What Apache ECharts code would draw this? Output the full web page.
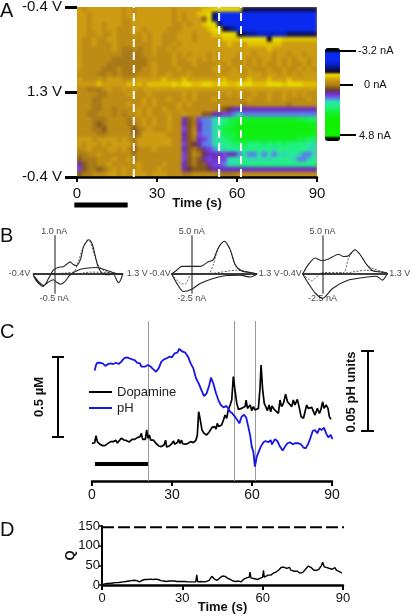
<!DOCTYPE html>
<html><head><meta charset="utf-8">
<script src="https://cdn.jsdelivr.net/npm/echarts@6/dist/echarts.min.js"></script>
<style>html,body{margin:0;padding:0;background:#fff}#c{width:410px;height:616px}</style>
</head><body><div id="c"></div>
<script>
const FONT = '"Liberation Sans", Arial, sans-serif';
// Panel A: background-subtracted current, one char per cell (0-9a-z => -3.5 nA + index * 0.25 nA)
const currentRows = [
"cdcccccc cdcdcccc cccdcccc cbbaaaaa a9888888 88888888",
"ccdccccc cdcdcccc cccdcdcc bba85333 22222222 22222222",
"ccdccccc cddccccc cccdcdcc cfa85433 22222222 22222222",
"ccdccdcc cddccccc cccddcdc cbaa8533 22222222 22222222",
"ccdccdcc dddccdcc ccdddccc ccbaa987 32222222 22222222",
"ccddcddc dddcdcdc cdddcccd cccbbaaa 98776666 66888888",
"cddcddcc dddddcdc cdddcccd cccccbbb baaaaa9a abbbbbbb",
"cddcdddc dddddddc cddcdccc ccccccbc ccbbbbbb bccccccc",
"cddddddc deededdc ddcdcccc cccccccc ccccccbc cccccccc",
"cddddddd deeeeddc dddcdcdc ccdcdccc dccdcccd ccdccdcc",
"cdddddde eeeeeedd dddcddcc dcdcdccd dcdcdccd cdcdccdc",
"cdddddee eeeeeedc dddcdddc ddddcdcd dcdcdcdd cdcddcdc",
"cddddeee deeeeddc ddddcddd dddccddc ddcdddcd dcddcdcd",
"ddddeede deeedddc ddcdddcd ddddcdcc cdcccdcc dcdcdccc",
"cdddcdcc cddccccc cbcccbcc cccccbcc ccbcccbc ccbccccc",
"ccccbccc ccbcbcbb bbbabaab baabbabb aaabbbaa abaaabbb",
"ddeeedcd dcdcdccc cccccccc cccccccc cccccccc cccccccc",
"ddddeedd ddcdddcd dddddcdc ddddddcd cddcddcd dcdcdcdd",
"dddeeddd dddddcdc ddcddcdc dddcdddd ddcdddcd dcddddcd",
"dddeeddd ddcddcdc ddddcdcd dddddddd dedddddd ddeddddd",
"dddeedde ddddcdcd dcddcddd ddddefgh hhhhhhhh hhhhhhhh",
"ddeeddde deddcdcd ddcddcdd dffhhiij kjjjjjjj jjjjjjjj",
"dddeeedd ddeddcdc ddcddhfe ijjklmno pppppppp ppppoonn",
"dddefedd ddeedcdc ddcddhfe hjjklnoo qqqqqqqq qqqqqqqp",
"dddeefdd dddfedcd ddcddifd hjjkmooq qqqqqqqq qqqqqqqq",
"ddddeedd dddfeccc ccdddhfd ijjkmooo qqqqqqqq qqqqqqqp",
"cccdcccc dcdecccc cccddhfe hijklmno pppppppp ppppoonn",
"cdccdcdc cccecccc cccddifg hjjklmmn nommmnmn mnmmmmlk",
"ddcdddcc dcdfdddc dddddhfe fhijkkll mmmmmlmk mmmmmmkk",
"eeddcddd dddedddd dddddifd eghhhihh jkjjkjkj kkllkjjk",
"feeedddc ddcedddd dddddife fhihiikl lmkklkkl lmlkjjkl",
"hfeeddcd ddddcddd dcdddhfe ffhiijkk mmmmmmmm mmmmmmmm",
"ifeefedc dcddcddd cddddhgf ffghhhhh hhhhhhhh hhhhhhhh",
"feedddcc dcdcccdc ccdddeed ddddeeee dddddddd dddddddd"
];
const colorScale = ["#050505","#050508","#0a2af0","#0a2af0","#0a2af0","#0a2ae8","#0a20c8","#0a1898","#0a1060","#100c28",
"#e8dc00","#e0c000","#cc9c12","#bd8c14","#a87a18","#865a1c","#6a3a40","#6a30c0","#7a40e0","#5a80e8",
"#30d8b0","#28e8a0","#20f080","#18f060","#14f040","#10f020","#10f010","#10f000","#10f000","#10f000","#10f000","#10f000","#10f000","#10f000","#050505","#050505"];
const heatTicks = ["-0.4 V","1.3 V","-0.4 V"];
const eventTimes = [21.3,53.3,61.5];
const barA = [[-1,-0.33],[19,-0.33]];
const cbLabels = ["-3.2 nA","0 nA","4.8 nA"];

// Panel B: cyclic voltammograms [V, nA]
const cv1Solid = [[-0.4,-0.03],[-0.33,-0.2],[-0.21,-0.33],[-0.11,-0.12],[-0.02,0.1],[0.08,0.18],[0.17,0.19],[0.23,0.25],[0.3,0.32],[0.36,0.25],[0.42,0.22],[0.5,0.39],[0.55,0.7],[0.62,0.87],[0.65,0.9],[0.7,0.85],[0.74,0.7],[0.83,0.2],[0.93,0],[1.05,-0.02],[1.12,0],[1.2,-0.2],[1.23,-0.22],[1.3,0],[1.2,0],[1.05,0.07],[0.8,0.17],[0.6,0.15],[0.45,0.1],[0.3,-0.02],[0.2,-0.2],[0.12,-0.27],[0.05,-0.22],[-0.02,-0.15],[-0.1,-0.2],[-0.2,-0.3],[-0.3,-0.2],[-0.4,-0.03]];
const cv1Dotted = [[-0.4,0],[0.36,0.05],[0.45,0.3],[0.52,0.6],[0.62,0.87],[0.68,0.85],[0.76,0.5],[0.85,0.2],[1,0.05],[1.3,0],[1.1,0.03],[0.7,0.05],[0.3,-0.02],[-0.4,0]];
const cv2Solid = [[-0.4,0],[-0.3,0.5],[-0.2,1],[0,1],[0.17,1],[0.33,1.6],[0.43,1.85],[0.53,3.4],[0.65,4.3],[0.77,3.2],[0.87,1.2],[1,0.4],[1.17,0.2],[1.3,0],[1.17,-0.4],[0.97,-0.15],[0.7,-0.2],[0.43,-0.6],[0.17,-1.25],[0,-2],[-0.17,-2.3],[-0.3,-1.2],[-0.4,0]];
const cv2Dotted = [[-0.4,0],[-0.2,-1.3],[-0.13,-1.3],[0,0],[0.33,0],[0.43,1.2],[0.53,3.4],[0.65,4.3],[0.77,3.2],[0.87,1.2],[1,0.5],[1.3,0],[0.9,0.5],[0.43,0.1],[-0.4,0]];
const cv3Solid = [[-0.4,0],[-0.29,1.2],[-0.15,2.1],[-0.02,1.75],[0.12,1.97],[0.32,2.6],[0.42,2.3],[0.52,2.4],[0.65,3.2],[0.75,2.6],[0.89,1.2],[1.02,0.4],[1.3,0.1],[1.2,-0.8],[1.08,-0.3],[0.89,-0.4],[0.52,-0.8],[0.2,-1.9],[0,-3.2],[-0.15,-2.5],[-0.29,-1.2],[-0.4,0]];
const cv3Dotted = [[-0.4,0],[-0.22,-0.9],[-0.01,0.2],[0.42,0.2],[0.52,2.05],[0.65,3.2],[0.78,2.3],[0.92,1],[1.3,0.1],[0.89,0.5],[0.42,0.1],[-0.4,0]];
const cvLabels = [["1.0 nA","-0.5 nA","-0.4V","1.3 V"],["5.0 nA","-2.5 nA","-0.4V","1.3 V"],["5.0 nA","-2.5 nA","-0.4V","1.3 V"]];

// Panel C: [time s, dopamine uM] and [time s, pH units]
const dopamine = [[0,.235],[.6,.235],[1,.239],[1.5,.283],[2,.246],[2.5,.252],[3,.229],[3.5,.239],[4,.221],[5,.223],[6,.235],[7,.246],[8,.246],[8.5,.239],[9,.254],[9.5,.237],[10,.239],[11,.267],[12,.256],[13,.252],[14,.244],[15,.26],[16,.26],[17,.271],[18,.277],[18.5,.298],[19,.26],[20,.26],[20.5,.319],[21,.267],[21.5,.287],[22,.256],[23,.256],[24,.235],[25,.219],[26,.215],[27,.225],[27.6,.255],[28,.212],[29,.219],[30,.235],[30.6,.25],[31,.23],[32,.24],[32.5,.26],[33,.235],[33.6,.255],[34,.233],[35,.23],[36,.235],[37,.246],[38,.24],[39,.256],[39.5,.287],[40,.433],[40.5,.392],[41.25,.318],[42,.298],[43,.287],[44,.308],[44.5,.31],[45,.335],[45.5,.325],[46,.34],[46.5,.325],[47,.36],[47.5,.34],[48,.344],[48.6,.35],[49.3,.381],[49.9,.412],[50.5,.392],[51.1,.444],[51.8,.475],[52.4,.506],[53,.652],[53.6,.569],[54.3,.485],[54.9,.448],[55.5,.444],[56.1,.454],[56.7,.444],[57.4,.465],[57.8,.506],[58.3,.454],[58.8,.448],[59.3,.475],[59.9,.44],[60.5,.465],[61.1,.444],[61.8,.444],[62.4,.454],[63,.58],[63.4,.725],[64,.569],[64.6,.485],[65.1,.495],[65.8,.44],[66.4,.475],[67,.433],[67.5,.469],[68.3,.448],[69,.46],[69.9,.423],[70.5,.506],[71.1,.465],[71.8,.485],[72.6,.543],[73.3,.495],[74,.506],[74.9,.465],[75.5,.506],[76.1,.475],[77,.51],[77.8,.454],[78.4,.402],[79.3,.392],[79.9,.385],[80.5,.475],[81.1,.454],[81.8,.46],[82.4,.46],[83,.448],[83.6,.412],[84.5,.454],[85.3,.423],[85.8,.444],[86.5,.495],[87,.454],[87.8,.475],[88.5,.454],[89,.402],[89.6,.385]];
const ph = [[1,.069],[1.5,.0725],[2,.0739],[3,.0739],[3.5,.0746],[4,.0735],[5,.0719],[6,.0731],[7,.0735],[8,.0731],[9,.0739],[10,.0731],[11,.0746],[12,.0767],[13,.0773],[14,.0767],[15,.076],[16,.0756],[17,.0739],[18,.0735],[18.5,.0715],[19,.0725],[20,.0715],[21,.0725],[22,.0715],[23,.0698],[24,.0683],[25,.0704],[26,.0746],[27,.076],[28,.0767],[29,.0777],[30,.0773],[31,.0798],[32,.0802],[32.7,.0825],[34,.0808],[35,.0802],[36,.0777],[37,.0735],[38,.0704],[39,.0642],[40,.061],[41,.0569],[42,.0531],[43,.0548],[44,.06],[44.6,.0646],[45.5,.061],[46.5,.0548],[47.4,.0506],[48.3,.0475],[49.3,.046],[50.3,.0469],[51.1,.0454],[51.8,.0433],[52.6,.0423],[53.6,.0402],[54.5,.0381],[55.25,.036],[56.1,.0402],[57,.0414],[57.8,.0398],[58.6,.034],[59.3,.0287],[59.9,.0215],[60.5,.0183],[61.1,.009],[61.8,.0152],[62.4,.0162],[63.3,.0215],[64.3,.0242],[65.1,.025],[66.1,.0242],[67,.0256],[67.5,.0229],[68.6,.0262],[69.5,.025],[70.5,.0215],[71.5,.019],[72.4,.0215],[73.3,.0236],[74.3,.0242],[75.3,.023],[76.1,.0236],[77.4,.0236],[78.3,.023],[79.3,.0209],[80.1,.0204],[81.1,.0233],[82,.0273],[82.8,.0314],[83.6,.0318],[84.5,.0298],[85.3,.0329],[86.1,.0318],[87,.0333],[87.8,.0298],[88.6,.0273],[89.5,.0288],[90.2,.0262]];
const eventTimesC = [21.19,53.44,61.31];
const barC = [[1.1,.106],[21,.106]];
const scaleUM = [[-15,.775],[-10.5,.775],[-12.75,.775],[-12.75,.275],[-15,.275],[-10.5,.275]];
const scalePH = [[100.9,.08125],[105.75,.08125],[103.5,.08125],[103.5,.03125],[100.9,.03125],[105.75,.03125]];

// Panel D: [time s, Q]
const qValues = [[0,0],[.5,2],[1,3],[2,4],[3,4],[4,5],[5,6],[6,6],[7,7],[8,8],[9,9],[10,10],[11,11],[12,12],[13,11],[14,8],[15,12],[16,14],[17,14],[18,15],[19,14],[20,15],[21,14],[22,11],[23,10],[24,9],[25,10],[26,10],[27,10],[28,9],[29,9],[30,9],[31,9],[32,8],[33,8],[34,8],[35,8],[35.4,26],[35.7,8],[36,8],[37,9],[38,8],[39,9],[40,12],[40.5,14],[41,22],[41.5,27],[42,15],[43,12],[44,18],[45,23],[46,22],[47,17],[48,14],[49,10],[49.5,6],[50,9],[51,10],[52,8],[53,15],[54,18],[54.5,15],[55,20],[55.3,33],[55.6,18],[56,16],[57,16],[58,14],[59,17],[60,20],[60.3,37],[60.6,20],[61,22],[62,25],[63,25],[64,30],[64.5,28],[65,33],[66,38],[66.5,34],[67,45],[67.5,50],[68,45],[68.5,50],[69,42],[70,45],[70.5,38],[71,37],[72,35],[72.5,40],[73,35],[74,30],[75,32],[76,40],[77,48],[78,45],[79,38],[80,37],[81,40],[82,50],[82.4,58],[83,46],[84,44],[84.5,49],[85,42],[86,40],[87,44],[87.5,38],[88,38],[89,33],[89.6,30]];
const qThreshold = [[0,147],[90.8,147]];

const chart = echarts.init(document.getElementById('c'), null, {renderer:'canvas'});
const txt = (s,b)=>({fontFamily:FONT,fontSize:s,color:'#111',fontWeight:b?'bold':'normal'});
const heat = [];
currentRows.forEach((row,r)=>{[...row.replace(/ /g,'')].forEach((ch,c)=>{heat.push([c,r,-3.5+parseInt(ch,36)*0.25]);});});
const nCols = currentRows[0].replace(/ /g,'').length;

const grids = [
 {left:77,top:7,width:240,height:170},
 {left:33.3,top:236,width:89.4,height:57},
 {left:171.7,top:236,width:85,height:57},
 {left:302.7,top:236,width:84.6,height:57},
 {left:92,top:321,width:240,height:160},
 {left:102,top:526,width:241,height:59},
 {left:0,top:321,width:410,height:160}
].map(g=>({...g,outerBoundsMode:'none',containLabel:false}));
const tickAxis = (grid,size,name,gap,margin)=>({type:'value',gridIndex:grid,position:'bottom',min:0,max:90,interval:30,
  axisLine:{show:true,onZero:false,lineStyle:{color:'#000',width:2.5}},
  axisTick:{show:true,length:5,lineStyle:{color:'#000',width:2}},
  axisLabel:{...txt(size),margin:margin||7},splitLine:{show:false},
  name:name||'',nameLocation:'middle',nameGap:gap||0,nameMoveOverlap:false,nameTextStyle:txt(13,true)});
const xAxes = [
 {type:'category',gridIndex:0,show:false,position:'top',data:[...Array(nCols).keys()]},
 tickAxis(0,15,'Time (s)',20,9),
 ...[1,2,3].map(g=>({type:'value',gridIndex:g,min:-0.4,max:1.3,axisLine:{onZero:true,lineStyle:{color:'#000',width:1.5}},axisTick:{show:false},axisLabel:{show:false},splitLine:{show:false}})),
 tickAxis(4,14),
 tickAxis(5,13,'Time (s)',16),
 {type:'value',gridIndex:6,show:false,min:-34.5,max:119.25}
];
const cvRange = [[-0.5,1],[-2.5,5],[-2.5,5]];
const yAxes = [
 {type:'category',gridIndex:0,show:false,position:'right',inverse:true,data:currentRows.map((_,i)=>i)},
 {type:'value',gridIndex:0,position:'left',min:0,max:2,interval:1,axisLine:{show:false},
  axisTick:{show:true,length:12,lineStyle:{color:'#000',width:3}},
  axisLabel:{...txt(15),margin:15,formatter:(v)=>heatTicks[2-v]},splitLine:{show:false}},
 ...[1,2,3].map((g,i)=>({type:'value',gridIndex:g,min:cvRange[i][0],max:cvRange[i][1],axisLine:{show:true,onZero:true,lineStyle:{color:'#8a8a8a',width:2}},axisTick:{show:false},axisLabel:{show:false},splitLine:{show:false}})),
 {type:'value',gridIndex:4,min:0,max:1,show:false},
 {type:'value',gridIndex:4,min:0,max:0.1,show:false},
 {type:'value',gridIndex:5,position:'left',min:0,max:150,interval:50,
  axisLine:{show:true,onZero:false,lineStyle:{color:'#000',width:2}},
  axisTick:{show:true,length:3,lineStyle:{color:'#000',width:1.5}},
  axisLabel:{...txt(13),margin:2},splitLine:{show:false},
  name:'Q',nameLocation:'middle',nameRotate:90,nameGap:25,nameMoveOverlap:false,nameTextStyle:txt(13,true)},
 {type:'value',gridIndex:6,min:0,max:1,show:false},
 {type:'value',gridIndex:6,min:0,max:0.1,show:false}
];
const line=(name,data,xi,yi,color,w,extra,more)=>Object.assign({type:'line',name,data,xAxisIndex:xi,yAxisIndex:yi,symbol:'none',silent:true,clip:false,animation:false,
  lineStyle:{color,width:w,...(extra||{})},itemStyle:{color}},more||{});
const textSeries=(data,xi,yi,size)=>({type:'scatter',xAxisIndex:xi,yAxisIndex:yi,symbolSize:0,silent:true,clip:false,animation:false,
  data:data.map(d=>({value:d.at,label:{show:true,formatter:d.text,position:d.pos,distance:d.dist||0,...txt(d.size||size,d.bold)}}))});

const series = [
 {type:'heatmap',data:heat,xAxisIndex:0,yAxisIndex:0,silent:true,animation:false,progressive:0,zlevel:-1},
 ...eventTimes.map(t=>line('',[[t,0],[t,2]],1,1,'#fff',2,{type:[8,5]})),
 line('',barA,1,1,'#000',5),
];
[[cv1Dotted,cv1Solid],[cv2Dotted,cv2Solid],[cv3Dotted,cv3Solid]].forEach((pair,i)=>{
  series.push(line('',pair[0],2+i,2+i,'#333',0.8,{type:[2,1.5]},{smooth:0.25}));
  series.push(line('',pair[1],2+i,2+i,'#222',1.1,null,{smooth:0.25}));
  const [lo,hi]=cvRange[i];
  const L=cvLabels[i];
  series.push(textSeries([
   {at:[0,hi],text:L[0],pos:'top',dist:0},
   {at:[0,lo],text:L[1],pos:'bottom',dist:1},
   {at:[-0.4,0],text:L[2],pos:'left',dist:i?1:3},
   {at:[1.3,0],text:L[3],pos:'right',dist:i?2:4}
  ],2+i,2+i,9));
});
series.push(
 ...eventTimesC.map(t=>line('',[[t,0],[t,1]],5,5,'#9a9a9a',1)),
 line('Dopamine',dopamine,5,5,'#000',1.7),
 line('pH',ph,5,6,'#1616e8',1.8),
 line('',barC,5,5,'#000',4),
 line('',scaleUM,7,8,'#000',2),
 line('',scalePH,7,9,'#000',2),
 line('',qThreshold,6,7,'#000',2,{type:[12,4]}),
 line('',qValues,6,7,'#000',1.4)
);

const hline=(x1,x2,y)=>({type:'line',silent:true,shape:{x1,y1:y,x2,y2:y},style:{stroke:'#000',lineWidth:2}});
const gtext=(t,x,y,font,rot)=>({type:'text',silent:true,x,y,rotation:rot||0,style:{text:t,font,fill:'#111',align:rot?'center':'left',verticalAlign:'middle'}});
chart.setOption({
 animation:false,
 grid:grids,xAxis:xAxes,yAxis:yAxes,series,
 visualMap:{type:'continuous',seriesIndex:0,min:-3.5,max:5.25,inverse:true,left:325,top:48,itemWidth:15,itemHeight:93,padding:0,
   calculable:false,hoverLink:false,text:null,showLabel:false,inRange:{color:colorScale},textStyle:{color:'rgba(0,0,0,0)',fontSize:1}},
 legend:{data:['Dopamine','pH'],icon:'rect',orient:'vertical',left:89,top:385,itemWidth:23,itemHeight:2,itemGap:2,selectedMode:false,textStyle:{...txt(13),color:'#222',lineHeight:14},padding:0},
 graphic:[
  {type:'rect',silent:true,zlevel:-2,shape:{x:77,y:7,width:240,height:170},style:{fill:'#c8981a'}},
  gtext('A',0,11,'20px '+FONT),gtext('B',0,236,'20px '+FONT),gtext('C',0,332,'20px '+FONT),gtext('D',0,530,'20px '+FONT),
  hline(340,356,51),hline(340,353,85),hline(340,356,135),
  gtext(cbLabels[0],358,51,'11px '+FONT),gtext(cbLabels[1],364,85,'11px '+FONT),gtext(cbLabels[2],359,136,'11px '+FONT),
  gtext('0.5 µM',39,397,'bold 13px '+FONT,Math.PI/2),
  gtext('0.05 pH units',351,392,'bold 13px '+FONT,Math.PI/2)
 ]
});
const heatLayer = document.querySelector('canvas[data-zr-dom-id="zr_-1"]');
if (heatLayer) { heatLayer.style.filter='blur(1.6px)'; heatLayer.style.clipPath='inset(7px 93px 439px 77px)'; }
</script></body></html>
